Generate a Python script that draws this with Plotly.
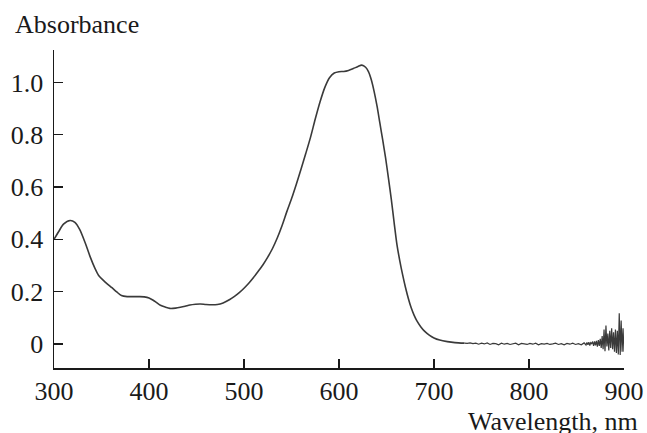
import plotly.graph_objects as go

# Smooth part of the spectrum (wavelength, nm / absorbance)
wl_smooth = [300, 305, 310, 317, 322, 327, 333, 338, 343, 347, 352, 356, 361, 366, 371, 377,
             384, 390, 395, 400, 404, 408, 412, 417, 422, 428, 433, 438, 443, 449, 454, 460,
             466, 472, 478, 485, 490, 495, 500, 505, 510, 515, 520, 525, 530, 535, 540, 545,
             550, 555, 560, 565, 570, 575, 580, 585, 590, 595, 600, 605, 610, 615, 620, 624,
             628, 631, 634, 637, 640, 643, 646, 649, 652, 655, 658, 661, 664, 667, 670, 673,
             676, 679, 682, 686, 690, 695, 700, 706, 714, 722, 732]
abs_smooth = [0.400, 0.430, 0.458, 0.472, 0.465, 0.438, 0.385, 0.334, 0.290, 0.262, 0.243, 0.230,
              0.215, 0.199, 0.185, 0.181, 0.181, 0.181, 0.180, 0.176, 0.168, 0.158, 0.148, 0.141,
              0.136, 0.137, 0.140, 0.144, 0.149, 0.152, 0.153, 0.151, 0.150, 0.151, 0.157, 0.170,
              0.182, 0.196, 0.213, 0.232, 0.254, 0.278, 0.303, 0.332, 0.365, 0.405, 0.452, 0.505,
              0.555, 0.610, 0.668, 0.728, 0.790, 0.860, 0.925, 0.980, 1.018, 1.036, 1.041, 1.042,
              1.046, 1.053, 1.061, 1.066, 1.058, 1.041, 1.010, 0.965, 0.910, 0.845, 0.780, 0.712,
              0.635, 0.555, 0.465, 0.380, 0.318, 0.264, 0.216, 0.174, 0.138, 0.110, 0.088, 0.066,
              0.049, 0.034, 0.023, 0.015, 0.009, 0.005, 0.003]

# Noisy baseline part
wl_noise = [732, 735, 738, 741, 744, 747, 750, 753, 756, 759, 762, 765, 768, 771, 774, 777, 780,
            783, 786, 789, 792, 795, 798, 801, 804, 807, 810, 813, 816, 819, 822, 825, 828, 831,
            834, 837, 840, 843, 846, 849, 852, 855, 858, 860, 861, 862, 863, 864, 865, 866, 867,
            868, 869, 870, 871, 872, 873, 874, 875, 876, 877, 878, 879, 880, 881, 882, 883, 884,
            885, 886, 887, 888, 889, 890, 891, 892, 893, 894, 895, 896, 897, 898, 899, 900]
abs_noise = [0.003, 0.002, 0.004, 0.001, 0.003, -0.001, 0.003, 0.000, 0.004, -0.002, 0.002, 0.001,
             -0.003, 0.003, -0.001, 0.002, -0.002, 0.001, 0.003, -0.003, 0.002, 0.000, -0.002,
             0.002, -0.001, 0.003, -0.003, 0.001, -0.001, 0.002, -0.002, 0.000, 0.003, -0.002,
             0.001, -0.003, 0.002, -0.001, 0.003, -0.002, 0.001, -0.003, 0.004,
             -0.004, 0.006, -0.003, 0.007, -0.006, 0.005, 0.001, 0.009, -0.007, 0.010, -0.005,
             0.012, -0.010, 0.015, -0.008, 0.020, -0.015, 0.030, -0.020, 0.055, -0.028, 0.070,
             -0.010, 0.040, -0.025, 0.050, -0.015, 0.060, -0.020, 0.045, -0.030, 0.055, -0.035,
             0.050, -0.040, 0.117, -0.042, 0.090, -0.030, 0.060, -0.030]

x_ticks = [300, 400, 500, 600, 700, 800, 900]
y_ticks = [0, 0.2, 0.4, 0.6, 0.8, 1.0]
y_tick_text = ["0", "0.2", "0.4", "0.6", "0.8", "1.0"]

FONT = "Liberation Serif"
LINE = "#3a3a3a"
INK = "#1a1a1a"

fig = go.Figure()
fig.add_trace(go.Scatter(x=wl_smooth, y=abs_smooth, mode="lines",
                         line=dict(color=LINE, width=1.6, shape="spline", smoothing=0.8),
                         showlegend=False, hoverinfo="skip"))
fig.add_trace(go.Scatter(x=wl_noise, y=abs_noise, mode="lines",
                         line=dict(color=LINE, width=1.2),
                         showlegend=False, hoverinfo="skip"))

fig.update_layout(
    width=647, height=433,
    margin=dict(l=54, r=23, t=50, b=65),
    paper_bgcolor="white", plot_bgcolor="white",
    font=dict(family=FONT, size=26, color=INK),
    xaxis=dict(range=[300, 900], tickvals=x_ticks, ticks="inside", ticklen=9, tickwidth=1.5,
               tickcolor=INK, showline=True, linecolor=INK, linewidth=1.5,
               showgrid=False, zeroline=False, ticklabelstandoff=-1, automargin=False),
    yaxis=dict(range=[-0.092, 1.124], tickvals=y_ticks, ticktext=y_tick_text, ticks="inside",
               ticklen=9, tickwidth=1.5, tickcolor=INK, showline=True,
               linecolor=INK, linewidth=1.5, showgrid=False, zeroline=False,
               ticklabelstandoff=4, automargin=False),
    annotations=[
        dict(text="Absorbance", xref="paper", yref="paper", x=-0.072, y=1.0, xanchor="left",
             yanchor="bottom", yshift=9, showarrow=False, font=dict(family=FONT, size=26)),
        dict(text="Wavelength, nm", xref="paper", yref="paper", x=1.028, y=0, xanchor="right",
             yanchor="top", yshift=-37, showarrow=False, font=dict(family=FONT, size=26)),
    ],
)

fig.write_html("out.html", config={"displayModeBar": False, "staticPlot": True},
               post_script="document.body.style.margin='0';document.body.style.overflow='hidden';")
